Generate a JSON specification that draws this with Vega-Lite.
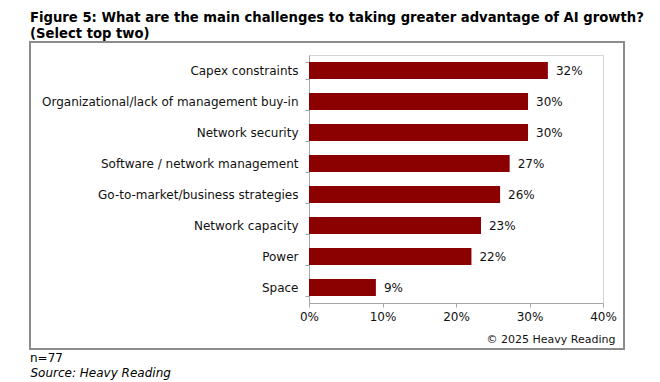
{
  "$schema": "https://vega.github.io/schema/vega-lite/v6.json",
  "width": 294,
  "height": 248,
  "autosize": {"type": "none"},
  "padding": {"left": 309, "top": 55, "right": 57, "bottom": 79},
  "background": "white",
  "config": {
    "font": "DejaVu Sans",
    "view": {"stroke": "#d4d4d4", "strokeWidth": 1}
  },
  "title": {
    "text": ["Figure 5: What are the main challenges to taking greater advantage of AI growth?", "(Select top two)"],
    "anchor": "start",
    "frame": "group",
    "dx": -279,
    "dy": 17,
    "offset": 17,
    "font": "DejaVu Sans",
    "fontSize": 13.2,
    "fontWeight": "bold",
    "lineHeight": 16,
    "color": "#000000"
  },
  "data": {
    "values": [
      {"challenge": "Capex constraints", "value": 32.5, "label": "32%"},
      {"challenge": "Organizational/lack of management buy-in", "value": 29.8, "label": "30%"},
      {"challenge": "Network security", "value": 29.8, "label": "30%"},
      {"challenge": "Software / network management", "value": 27.3, "label": "27%"},
      {"challenge": "Go-to-market/business strategies", "value": 26.0, "label": "26%"},
      {"challenge": "Network capacity", "value": 23.4, "label": "23%"},
      {"challenge": "Power", "value": 22.1, "label": "22%"},
      {"challenge": "Space", "value": 9.1, "label": "9%"}
    ]
  },
  "layer": [
    {
      "mark": {"type": "rect", "x": -279, "x2": 315, "y": -13, "y2": 294, "fill": null, "stroke": "#8c8c8c", "strokeWidth": 1.5},
      "encoding": {}
    },
    {
      "mark": {"type": "bar", "color": "#8B0000"},
      "encoding": {
        "y": {
          "field": "challenge",
          "type": "nominal",
          "sort": null,
          "scale": {"paddingInner": 0.45, "paddingOuter": 0.225},
          "axis": {
            "title": "Source: Heavy Reading",
            "titleAngle": 0,
            "titleAlign": "left",
            "titleBaseline": "middle",
            "titleX": -279,
            "titleY": 317,
            "titleFontStyle": "italic",
            "titleFontWeight": "normal",
            "titleFontSize": 12,
            "titleColor": "#000000",
            "labelFontSize": 12,
            "labelColor": "#111111",
            "labelPadding": 7,
            "labelLimit": 400,
            "tickBand": "extent",
            "tickSize": 4,
            "tickColor": "#a6a6a6",
            "domainColor": "#a6a6a6",
            "grid": false
          }
        },
        "x": {
          "field": "value",
          "type": "quantitative",
          "scale": {"domain": [0, 40]},
          "axis": {
            "values": [0, 10, 20, 30, 40],
            "labelExpr": "datum.value + '%'",
            "labelFlush": false,
            "grid": false,
            "tickSize": 4,
            "tickColor": "#a6a6a6",
            "domainColor": "#a6a6a6",
            "labelFontSize": 12,
            "labelColor": "#111111",
            "labelPadding": 4,
            "title": "© 2025 Heavy Reading",
            "titleAlign": "right",
            "titleAnchor": null,
            "titleBaseline": "middle",
            "titleX": 306,
            "titleY": 36,
            "titleFontSize": 11,
            "titleFontWeight": "normal",
            "titleColor": "#111111"
          }
        }
      }
    },
    {
      "mark": {"type": "text", "align": "left", "baseline": "middle", "dx": 8, "fontSize": 12, "color": "#111111"},
      "encoding": {
        "y": {"field": "challenge", "type": "nominal", "sort": null},
        "x": {"field": "value", "type": "quantitative"},
        "text": {"field": "label"}
      }
    },
    {
      "data": {"values": [{"note": "n=77"}]},
      "mark": {"type": "text", "align": "left", "baseline": "middle", "dx": -279, "dy": 70, "fontSize": 12, "color": "#000000"},
      "encoding": {
        "x": {"datum": 0, "type": "quantitative"},
        "y": {"datum": "Space", "type": "nominal"},
        "text": {"field": "note"}
      }
    }
  ]
}
